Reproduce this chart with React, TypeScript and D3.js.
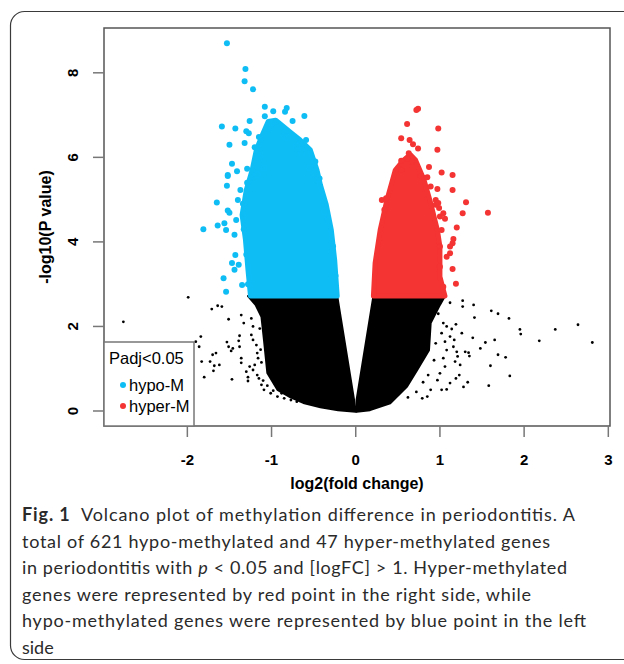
import React, { useEffect, useRef } from 'react'
import * as d3 from 'd3'

const xTicks = [-2, -1, 0, 1, 2, 3]
const yTicks = [0, 2, 4, 6, 8]
const legendTitle = 'Padj<0.05'
const legendLabels = ['hypo-M', 'hyper-M']

// caption, one entry per printed line: [text, style]
const captionLines = [
	[['Fig. 1', 'bold'], ['  Volcano plot of methylation difference in periodontitis. A', '']],
	[['total of 621 hypo-methylated and 47 hyper-methylated genes', '']],
	[['in periodontitis with ', ''], ['p', 'italic'], [' < 0.05 and [logFC] > 1. Hyper-methylated', '']],
	[['genes were represented by red point in the right side, while', '']],
	[['hypo-methylated genes were represented by blue point in the left', '']],
	[['side', '']],
]

// outlines of the packed regions where points overlap completely [log2FC, -log10 p]
const hypoCore = [
	[-1.04, 6.85], [-0.95, 6.88], [-0.78, 6.6], [-0.66, 6.41], [-0.54, 6.18], [-0.46, 5.7], [-0.42, 5.35],
	[-0.35, 4.88], [-0.29, 4.28], [-0.25, 3.57], [-0.22, 2.72], [-1.25, 2.72], [-1.28, 3.34], [-1.31, 4.05],
	[-1.35, 4.64], [-1.3, 5.23], [-1.23, 5.7], [-1.18, 6.18], [-1.11, 6.53],
]
const hyperCore = [
	[0.65, 6.06], [0.71, 5.94], [0.81, 5.47], [0.89, 4.92], [0.97, 4.28], [1.0, 3.89], [1.0, 3.18], [1.06, 2.72],
	[0.21, 2.72], [0.23, 3.5], [0.29, 4.28], [0.37, 4.99], [0.47, 5.7], [0.57, 5.94],
]
const nsCoreLeft = [
	[-1.28, 2.72], [-1.19, 2.51], [-1.12, 2.23], [-1.09, 1.68], [-1.05, 0.9], [-0.93, 0.5], [-0.78, 0.33],
	[-0.61, 0.18], [-0.42, 0.09], [-0.21, 0.02], [0.0, -0.02], [-0.02, 0.26], [-0.22, 2.72],
]
const nsCoreRight = [
	[0.21, 2.72], [1.06, 2.72], [1.0, 2.51], [0.89, 2.08], [0.87, 1.44], [0.73, 0.97], [0.61, 0.58],
	[0.41, 0.18], [0.17, 0.02], [0.01, -0.02], [0.01, 0.26],
]

// single points outside the packed regions
const hypoPoints = [
	[-1.53, 8.7], [-1.31, 8.09], [-1.32, 7.8], [-1.22, 7.61], [-1.08, 7.2], [-0.98, 7.09], [-0.82, 7.17],
	[-0.84, 7.08], [-0.61, 6.98], [-0.75, 6.86], [-1.08, 6.97], [-1.26, 6.86], [-1.59, 6.73], [-1.43, 6.68],
	[-1.3, 6.62], [-1.27, 6.57], [-1.15, 6.48], [-0.59, 6.41], [-1.5, 6.3], [-1.32, 6.34], [-0.67, 6.3],
	[-1.2, 6.24], [-1.17, 6.08], [-1.14, 5.99], [-1.47, 5.85], [-1.41, 5.67], [-1.52, 5.58], [-1.29, 5.73],
	[-1.03, 6.82], [-1.01, 6.7], [-0.84, 6.5], [-0.81, 6.46], [-0.7, 6.27], [-0.64, 6.11], [-0.54, 5.75],
	[-0.5, 5.59], [-1.09, 5.75], [-1.17, 5.59], [-1.52, 5.56], [-1.53, 5.33], [-1.65, 4.93], [-1.52, 4.74],
	[-1.5, 4.69], [-1.81, 4.3], [-1.64, 4.39], [-1.56, 4.44], [-1.54, 4.28], [-1.44, 4.17], [-1.42, 4.52],
	[-1.4, 4.99], [-1.37, 5.23], [-1.43, 3.69], [-1.47, 3.5], [-1.44, 3.34], [-1.57, 3.14], [-1.54, 2.82],
	[-1.35, 2.98], [-1.39, 3.46], [-0.38, 4.95], [-0.37, 4.72], [-0.33, 4.5], [-0.27, 3.9], [-0.24, 3.2],
	[-0.43, 5.5], [-0.48, 5.9], [-1.33, 4.3], [-1.34, 4.9], [-1.29, 5.4], [-1.3, 3.7], [-1.28, 3.0],
]
const hyperPoints = [
	[0.74, 7.15], [0.72, 7.12], [0.61, 6.79], [0.98, 6.68], [0.54, 6.45], [0.64, 6.41], [0.68, 6.31],
	[0.74, 6.21], [0.97, 6.18], [0.54, 5.92], [0.87, 5.77], [1.02, 5.64], [1.15, 5.58], [0.97, 5.25],
	[1.15, 5.23], [0.36, 5.03], [1.31, 4.94], [1.27, 4.68], [1.57, 4.69], [1.06, 4.55], [1.2, 4.34],
	[1.16, 4.07], [1.15, 3.97], [1.12, 3.89], [1.12, 3.73], [1.15, 3.36], [1.19, 3.01], [1.0, 4.6],
	[0.99, 4.8], [0.95, 4.88], [0.81, 5.51], [0.77, 5.56], [0.34, 4.76], [0.54, 5.7], [0.63, 6.1],
	[0.61, 5.98], [0.67, 5.9], [0.85, 5.53], [0.89, 5.31], [0.95, 4.99], [0.98, 4.92], [1.04, 4.68],
	[1.02, 4.28], [1.0, 3.89], [1.08, 3.65], [1.0, 3.41], [1.04, 2.94], [0.31, 4.99],
]
const nsPoints = [
	[-2.76, 2.11], [-1.99, 2.69], [-1.71, 2.41], [-1.64, 2.49], [-1.59, 2.47], [-1.51, 2.17], [-1.36, 2.27],
	[-1.33, 2.08], [-1.24, 2.19], [-1.22, 2.0], [-1.84, 1.76], [-1.9, 1.64], [-1.86, 1.52], [-1.83, 1.17],
	[-1.8, 0.8], [-1.73, 1.17], [-1.68, 1.07], [-1.7, 1.33], [-1.66, 1.37], [-1.69, 0.95], [-1.62, 1.09],
	[-1.53, 1.63], [-1.51, 1.52], [-1.48, 1.42], [-1.46, 1.48], [-1.38, 1.78], [-1.39, 1.66], [-1.38, 1.52],
	[-1.47, 0.75], [-1.36, 1.25], [-1.36, 1.14], [-1.3, 0.93], [-1.28, 0.8], [-1.28, 0.71], [-1.26, 1.05],
	[-1.22, 0.97], [-1.2, 1.09], [-1.17, 0.85], [-1.15, 0.77], [-1.12, 0.62], [-1.09, 0.5], [-1.01, 0.42],
	[-0.93, 0.34], [-0.85, 0.3], [-0.77, 0.26], [-1.24, 1.8], [-1.22, 1.68], [-1.18, 1.56], [-1.17, 1.37],
	[-1.16, 1.25], [-1.14, 1.95], [-1.13, 1.45], [-1.12, 1.15], [-1.1, 0.72], [-1.05, 0.6], [-0.98, 0.48],
	[-0.88, 0.42], [-0.7, 0.22],
	[1.12, 2.56], [1.27, 2.61], [1.27, 2.47], [1.4, 2.51], [1.61, 2.37], [1.69, 2.3], [1.82, 2.19],
	[1.41, 2.21], [1.95, 1.93], [1.96, 1.82], [2.37, 1.93], [2.64, 2.04], [2.81, 1.62], [2.18, 1.66],
	[1.26, 1.84], [1.39, 1.73], [1.54, 1.62], [1.65, 1.68], [1.48, 1.48], [1.3, 1.4], [1.34, 1.38],
	[1.35, 1.3], [1.69, 1.33], [1.78, 1.27], [1.6, 1.07], [1.83, 0.83], [1.33, 0.68], [1.28, 0.57],
	[1.58, 0.6], [1.19, 2.05], [1.14, 1.94], [1.12, 1.76], [1.17, 1.68], [1.16, 1.52], [1.2, 1.4],
	[1.21, 1.29], [1.18, 1.17], [1.23, 0.85], [1.19, 0.77], [1.12, 0.66], [1.08, 0.51], [1.02, 0.5],
	[1.24, 1.09], [1.04, 2.08], [1.08, 2.0], [1.02, 1.84], [1.06, 1.64], [1.08, 1.44], [1.04, 1.25],
	[1.06, 1.05], [1.0, 0.89], [0.97, 0.73], [0.89, 0.5], [0.85, 0.34], [0.79, 0.3], [0.95, 1.6],
	[0.93, 1.2], [0.86, 0.85], [0.8, 0.68], [0.72, 0.45], [0.62, 0.32], [0.98, 2.3],
]

const BLUE = '#0fbdf5'
const RED = '#f43333'
const AXIS_FONT = '"Liberation Sans", Arial, sans-serif'

const VolcanoPlot = () => {
	const ref = useRef(null)

	useEffect(() => {
		const svg = d3.select(ref.current)
		svg.selectAll('*').remove()

		const plot = { left: 104, right: 610, top: 28, bottom: 426 }
		const x = d3.scaleLinear().domain([-2.99, 3.02]).range([plot.left, plot.right])
		const y = d3.scaleLinear().domain([-0.355, 9.06]).range([plot.bottom, plot.top])

		// panel frame of the figure, open on the right
		svg.append('rect')
			.attr('x', 10.5).attr('y', 11.5)
			.attr('width', 700).attr('height', 648)
			.attr('rx', 14)
			.attr('fill', 'none').attr('stroke', '#3a3a3a').attr('stroke-width', 1.2)

		const area = d3.line()
			.x(d => x(d[0]))
			.y(d => y(d[1]))
			.curve(d3.curveLinearClosed)

		const g = svg.append('g')

		// not significant
		;[nsCoreLeft, nsCoreRight].forEach(core => {
			g.append('path').attr('d', area(core))
				.attr('fill', '#000').attr('stroke', '#000').attr('stroke-width', 2).attr('stroke-linejoin', 'round')
		})
		g.selectAll('circle.ns').data(nsPoints).enter().append('circle')
			.attr('class', 'ns')
			.attr('cx', d => x(d[0])).attr('cy', d => y(d[1])).attr('r', 1.4)
			.attr('fill', '#000')

		// hypo / hyper methylated
		const groups = [
			{ core: hypoCore, points: hypoPoints, color: BLUE },
			{ core: hyperCore, points: hyperPoints, color: RED },
		]
		groups.forEach(s => {
			g.append('path').attr('d', area(s.core))
				.attr('fill', s.color).attr('stroke', s.color).attr('stroke-width', 5).attr('stroke-linejoin', 'round')
			g.append('g').selectAll('circle').data(s.points).enter().append('circle')
				.attr('cx', d => x(d[0])).attr('cy', d => y(d[1])).attr('r', 3)
				.attr('fill', s.color)
		})

		// box
		svg.append('rect')
			.attr('x', plot.left).attr('y', plot.top)
			.attr('width', plot.right - plot.left).attr('height', plot.bottom - plot.top)
			.attr('fill', 'none').attr('stroke', '#555').attr('stroke-width', 1.5)

		// x axis
		const xa = svg.append('g').attr('font-family', AXIS_FONT)
		xTicks.forEach(t => {
			xa.append('line')
				.attr('x1', x(t)).attr('x2', x(t))
				.attr('y1', plot.bottom).attr('y2', plot.bottom + 11)
				.attr('stroke', '#777').attr('stroke-width', 1.5)
			xa.append('text')
				.attr('x', x(t)).attr('y', 465)
				.attr('text-anchor', 'middle').attr('font-size', 15).attr('font-weight', 'bold')
				.text(t)
		})
		xa.append('text')
			.attr('x', (plot.left + plot.right) / 2).attr('y', 489)
			.attr('text-anchor', 'middle').attr('font-size', 16).attr('font-weight', 'bold')
			.text('log2(fold change)')

		// y axis
		const ya = svg.append('g').attr('font-family', AXIS_FONT)
		yTicks.forEach(t => {
			ya.append('line')
				.attr('x1', plot.left - 11).attr('x2', plot.left)
				.attr('y1', y(t)).attr('y2', y(t))
				.attr('stroke', '#777').attr('stroke-width', 1.5)
			ya.append('text')
				.attr('transform', 'translate(' + 78 + ',' + y(t) + ') rotate(-90)')
				.attr('text-anchor', 'middle').attr('font-size', 15).attr('font-weight', 'bold')
				.text(t)
		})
		ya.append('text')
			.attr('transform', 'translate(' + 51 + ',' + (plot.top + plot.bottom) / 2 + ') rotate(-90)')
			.attr('text-anchor', 'middle').attr('font-size', 16).attr('font-weight', 'bold')
			.text('-log10(P value)')

		// legend
		const lg = svg.append('g').attr('font-family', AXIS_FONT)
		lg.append('rect')
			.attr('x', plot.left).attr('y', 342)
			.attr('width', 90).attr('height', plot.bottom - 342)
			.attr('fill', '#fff').attr('stroke', '#777').attr('stroke-width', 1.5)
		lg.append('text')
			.attr('x', 109).attr('y', 364)
			.attr('font-size', 16.5)
			.text(legendTitle)
		legendLabels.forEach((label, i) => {
			const cy = 385 + i * 21
			lg.append('circle').attr('cx', 123).attr('cy', cy).attr('r', 3).attr('fill', i === 0 ? BLUE : RED)
			lg.append('text')
				.attr('x', 129).attr('y', cy + 6)
				.attr('font-size', 16.5)
				.text(label)
		})

		// caption
		const cap = svg.append('g')
			.attr('font-family', 'Lato, "Noto Sans", sans-serif')
			.attr('font-size', 18)
			.attr('fill', '#2a2a2a')
		const capWidths = [553, 528, 545, 509, 564, null]
		captionLines.forEach((line, i) => {
			const t = cap.append('text').attr('x', 22).attr('y', 521 + i * 26.5)
			if (capWidths[i]) t.attr('textLength', capWidths[i]).attr('lengthAdjust', 'spacing')
			line.forEach(([txt, style]) => {
				const sp = t.append('tspan').text(txt).attr('xml:space', 'preserve')
				if (style === 'bold') sp.attr('font-weight', 'bold')
				if (style === 'italic') sp.attr('font-style', 'italic')
			})
		})
	}, [])

	return (
		<svg
			ref={ref}
			width={624}
			height={664}
			style={{ position: 'absolute', left: 0, top: 0, background: '#fff', whiteSpace: 'pre' }}
		></svg>
	)
}

export default function App() {
	return <VolcanoPlot />
}
